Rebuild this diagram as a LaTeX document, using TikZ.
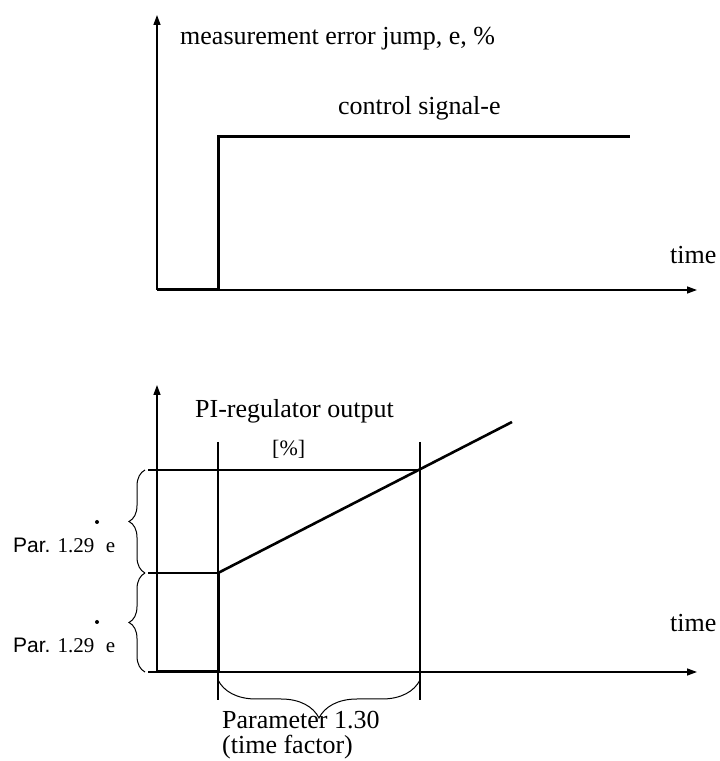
\documentclass[tikz,border=0pt]{standalone}
\usepackage{fontspec}
\setmainfont{Liberation Serif}
\newfontfamily\parsans{Liberation Sans}
\usetikzlibrary{positioning,arrows.meta,decorations.pathreplacing}

\begin{document}
\begin{tikzpicture}[x=1pt, y=1pt, font=\fontsize{26}{30}\selectfont,
  axis/.style={line width=1.3pt, -{Triangle[length=10pt,width=7pt]}},
  signal/.style={line width=3pt},
  guide/.style={line width=1.2pt},
  curly/.style={decorate, line width=1pt, decoration={brace, amplitude=#1}},
  lbl/.style={anchor=base west, inner sep=0pt},
  parlbl/.style={anchor=base west, inner sep=0pt, font=\fontsize{21}{24}\selectfont}]
\useasboundingbox (0,0) rectangle (720,761);
% pixel grid of the sheet, y counted upwards from the bottom edge
% upper graph: step of the measurement error
\coordinate (o1) at (157,471); \coordinate (y1) at (157,746); \coordinate (x1) at (697,471);
\coordinate (s1) at (218,471); \coordinate (s2) at (218,624); \coordinate (s3) at (630,624);
\draw[axis] (o1) -- (y1);
\draw[axis] (o1) -- (x1);
\draw[signal] (o1) -- (s1) -- (s2) -- (s3);
\node[lbl] (ylab1) at (180,716) {measurement error jump, e, \%};
\node[lbl] (sig) at (338,646) {control signal-e};
\node[lbl] (t1) at (670,497) {time};
% lower graph: PI-regulator response
\coordinate (o2) at (157,89); \coordinate (y2) at (157,376);
\coordinate (x0) at (148,89); \coordinate (x2) at (697,89);
\foreach \n/\x in {a/218, b/420} { \coordinate (\n top) at (\x,319); \coordinate (\n bot) at (\x,61); \draw[guide] (\n top) -- (\n bot); }
\coordinate (h1) at (148,291); \coordinate (h1e) at (420,291);
\coordinate (h2) at (148,188); \coordinate (h2e) at (218,188);
\coordinate (r0) at (218,89); \coordinate (r1) at (512,339);
\draw[axis] (o2) -- (y2);
\draw[axis] (x0) -- (x2);
\draw[guide] (h1) -- (h1e);
\draw[guide] (h2) -- (h2e);
\draw[signal] (o2) -- (r0) -- (h2e);
\draw[line width=2.6pt] (h2e) -- (r1);
\node[lbl] (pi) at (195,343) {PI-regulator output};
\node[lbl, font=\fontsize{22}{26}\selectfont] (pct) at (272,305) {[\%]};
\node[lbl] (t2) at (670,129) {time};
% braces for the gain and the time factor
\draw[curly=16pt] (145,89) -- (145,188);
\draw[curly=16pt] (145,188) -- (145,291);
\draw[curly=38pt] (420,81) -- (218,81);
\foreach \n/\y/\dy in {p1/208/239, p2/108/139}
  { \node[parlbl] (\n) at (13,\y) {{\parsans Par.} 1.29\hspace{0.55em}e};
    \fill (\n.base west) ++(84,\dy-\y) circle (2pt); }
\node[lbl, align=left, font=\fontsize{26}{25}\selectfont] (tf) at (222,7) {Parameter 1.30\\(time factor)};
\end{tikzpicture}
\end{document}
